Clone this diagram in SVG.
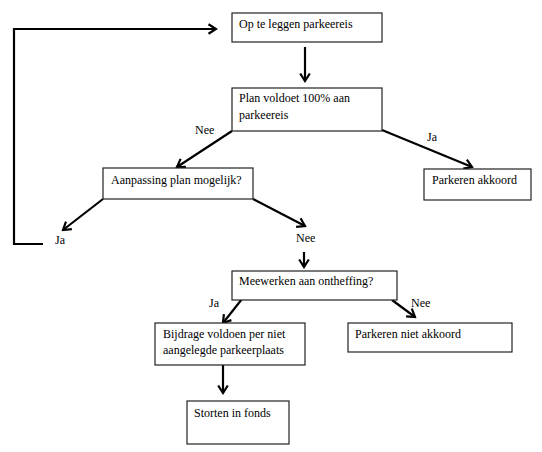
<svg xmlns="http://www.w3.org/2000/svg" width="542" height="452" viewBox="0 0 542 452">
<style>
.box{fill:#fff;stroke:#222;stroke-width:1.2}
text{font-family:'Liberation Serif','Times New Roman','DejaVu Serif',serif;font-size:12px;fill:#000}
.c{fill:none;stroke:#000;stroke-width:2.2}
</style>
<defs>
<marker id="ah" viewBox="0 0 12 12" refX="10" refY="6" markerWidth="12" markerHeight="12" markerUnits="userSpaceOnUse" orient="auto">
<polyline points="2.5,1.2 10,6 2.5,10.8" fill="none" stroke="#000" stroke-width="2.2"/>
</marker>
</defs>
<rect width="542" height="452" fill="#fff"/>
<g id="connectors">
<polyline class="c" points="43,244 14,244 14,29 216,29" marker-end="url(#ah)"/>
<line class="c" x1="305" y1="47" x2="305" y2="81" marker-end="url(#ah)"/>
<line class="c" x1="232" y1="131" x2="177" y2="167" marker-end="url(#ah)"/>
<line class="c" x1="382" y1="130" x2="472" y2="167" marker-end="url(#ah)"/>
<line class="c" x1="103" y1="199" x2="63" y2="230" marker-end="url(#ah)"/>
<line class="c" x1="253" y1="199" x2="305" y2="226" marker-end="url(#ah)"/>
<line class="c" x1="304" y1="252" x2="304" y2="267" marker-end="url(#ah)"/>
<line class="c" x1="242" y1="299" x2="223" y2="323" marker-end="url(#ah)"/>
<line class="c" x1="392" y1="300" x2="415" y2="317" marker-end="url(#ah)"/>
<line class="c" x1="223" y1="365" x2="223" y2="393" marker-end="url(#ah)"/>
<text x="195" y="134">Nee</text>
<text x="427" y="141">Ja</text>
<text x="55" y="244">Ja</text>
<text x="296" y="242">Nee</text>
<text x="209" y="307">Ja</text>
<text x="411" y="307">Nee</text>
</g>
<g id="n1"><rect class="box" x="232" y="13" width="150" height="29"/><text x="239" y="28">Op te leggen parkeereis</text></g>
<g id="n2"><rect class="box" x="232" y="88" width="150" height="43"/><text x="239" y="102">Plan voldoet 100% aan</text><text x="239" y="119">parkeereis</text></g>
<g id="n3"><rect class="box" x="103" y="168" width="150" height="31"/><text x="111" y="184">Aanpassing plan mogelijk?</text></g>
<g id="n4"><rect class="box" x="424" y="169" width="107" height="31"/><text x="432" y="184">Parkeren akkoord</text></g>
<g id="n5"><rect class="box" x="232" y="271" width="165" height="29"/><text x="239" y="285">Meewerken aan ontheffing?</text></g>
<g id="n6"><rect class="box" x="155" y="323" width="150" height="42"/><text x="163" y="338">Bijdrage voldoen per niet</text><text x="163" y="354">aangelegde parkeerplaats</text></g>
<g id="n7"><rect class="box" x="348" y="323" width="164" height="29"/><text x="355" y="338">Parkeren niet akkoord</text></g>
<g id="n8"><rect class="box" x="187" y="401" width="102" height="43"/><text x="194" y="417">Storten in fonds</text></g>
</svg>
